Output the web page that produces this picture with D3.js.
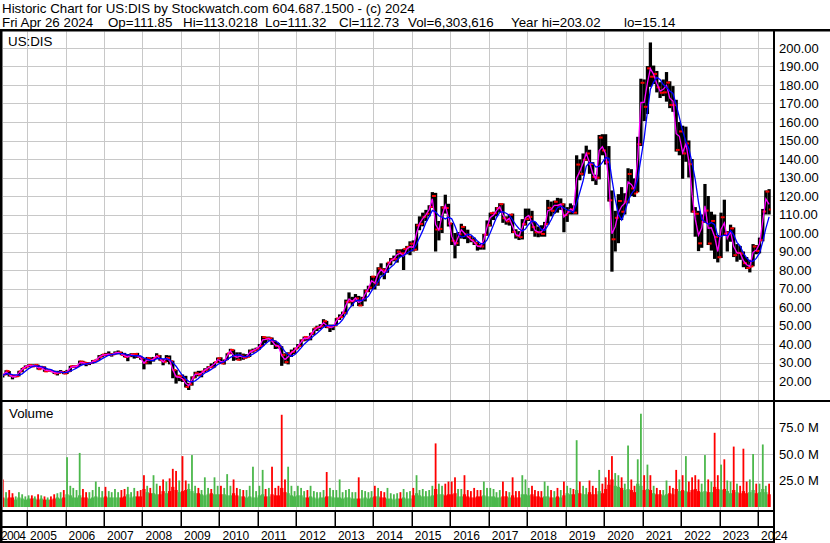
<!DOCTYPE html>
<html>
<head>
<meta charset="utf-8">
<script src="https://cdn.jsdelivr.net/npm/d3@7"></script>
<style>
  body { margin: 0; background: #fff; }
  svg { display: block; font-family: "Liberation Sans", Arial, sans-serif; }
</style>
</head>
<body>
<svg width="830" height="543"></svg>
<script>
// monthly bars, May 2004 .. Apr 2024
const firstMonth = [2004, 4];

const hi = [
  23.6, 25.8, 25.4, 23.2, 23.3, 25.5, 27.0, 28.4,
  29.0, 29.0, 29.0, 28.8, 28.2, 27.9, 26.3, 26.1, 25.5, 25.5, 25.9, 25.4,
  26.0, 28.2, 28.5, 28.4, 31.0, 30.9, 30.2, 30.0, 31.3, 31.6, 34.0, 34.5,
  35.2, 36.0, 35.0, 36.0, 36.5, 35.8, 35.2, 34.6, 35.0, 35.0, 35.2, 33.5,
  32.5, 33.0, 32.8, 33.0, 35.0, 34.0, 31.8, 34.0, 33.8, 31.0, 26.0, 23.4,
  23.5, 22.8, 19.0, 22.5, 25.0, 25.5, 25.5, 26.9, 28.0, 29.5, 30.3, 32.7,
  32.8, 31.6, 35.0, 37.4, 37.0, 35.5, 35.5, 34.8, 34.5, 37.0, 37.5, 38.0,
  40.0, 44.3, 44.0, 44.0, 43.5, 41.8, 40.5, 38.8, 35.0, 35.5, 37.0, 38.0,
  40.0, 42.5, 44.0, 44.0, 46.0, 48.5, 49.9, 50.7, 53.4, 52.5, 50.5, 50.5,
  54.0, 56.0, 57.5, 64.0, 67.9, 65.5, 67.0, 66.0, 65.5, 69.5, 71.5, 76.8,
  76.8, 81.5, 83.6, 81.0, 84.0, 86.5, 87.8, 91.2, 91.2, 91.5, 93.0, 95.5,
  96.0, 105.0, 109.0, 111.0, 112.5, 115.0, 122.1, 121.7, 106.5, 114.5, 120.7, 115.8,
  105.5, 100.0, 100.5, 105.0, 103.7, 101.8, 98.5, 97.5, 95.3, 94.0, 99.5, 106.8,
  111.0, 111.5, 114.0, 116.1, 116.0, 109.0, 110.0, 110.5, 102.0, 101.0, 107.5, 113.2,
  113.2, 112.0, 106.0, 103.5, 104.2, 106.0, 117.9, 117.0, 117.5, 119.0, 118.7, 116.0,
  114.0, 116.0, 115.0, 142.0, 139.8, 143.0, 147.2, 145.0, 138.3, 131.5, 153.0, 153.4,
  153.4, 147.0, 123.0, 112.0, 121.0, 124.8, 121.5, 135.0, 134.5, 129.5, 152.0, 183.4,
  183.0, 190.2, 203.0, 190.5, 187.6, 181.5, 183.0, 187.0, 182.0, 179.4, 172.0, 160.0,
  158.0, 157.5, 150.0, 140.0, 114.0, 112.0, 110.0, 126.5, 120.0, 111.5, 110.0, 99.0,
  111.0, 118.0, 101.0, 104.5, 103.0, 94.0, 93.0, 90.0, 87.0, 85.5, 94.0, 93.5,
  97.5, 113.0, 123.0, 123.7
];

const lo = [
  21.9, 23.2, 22.4, 20.9, 22.0, 22.5, 24.8, 26.7,
  27.6, 27.7, 27.6, 26.2, 26.4, 25.0, 25.0, 25.0, 23.8, 23.0, 24.2, 23.7,
  23.8, 25.0, 27.2, 27.1, 28.0, 28.7, 28.0, 28.6, 29.4, 30.5, 31.4, 32.9,
  33.5, 33.5, 33.2, 34.3, 34.5, 33.9, 32.8, 30.7, 32.9, 32.1, 32.5, 31.5,
  26.3, 29.0, 29.0, 30.5, 32.2, 31.0, 28.5, 30.2, 29.0, 21.5, 18.6, 20.0,
  19.5, 16.5, 15.14, 17.5, 21.5, 22.5, 22.0, 24.7, 25.5, 27.0, 27.3, 29.8,
  29.2, 28.9, 31.3, 34.5, 30.9, 31.4, 31.0, 31.5, 32.3, 33.0, 35.3, 36.3,
  37.0, 38.8, 40.5, 41.8, 39.5, 37.3, 37.5, 28.2, 29.5, 29.0, 33.0, 34.5,
  37.5, 38.5, 41.5, 41.8, 42.0, 44.8, 47.0, 48.0, 49.0, 48.6, 46.5, 47.5,
  50.0, 53.0, 54.5, 56.0, 62.0, 60.4, 62.8, 60.5, 60.5, 63.0, 68.0, 69.5,
  69.5, 71.5, 77.0, 75.0, 78.5, 82.5, 84.7, 84.0, 87.0, 80.0, 88.5, 88.0,
  90.0, 90.5, 101.5, 103.6, 106.5, 109.0, 113.5, 90.0, 96.0, 100.0, 110.5, 103.5,
  93.5, 86.3, 93.0, 97.0, 96.7, 94.5, 95.0, 93.5, 90.5, 91.0, 91.0, 98.5,
  103.5, 107.0, 109.0, 111.0, 105.5, 104.5, 104.0, 100.0, 97.0, 96.2, 96.5, 104.0,
  106.5, 101.0, 98.0, 97.7, 98.0, 98.0, 104.5, 109.0, 110.5, 111.0, 112.5, 100.4,
  106.0, 110.0, 110.0, 110.0, 128.5, 131.0, 139.0, 132.0, 128.0, 126.0, 129.0, 142.0,
  137.0, 117.0, 79.1, 90.0, 94.5, 107.0, 110.0, 116.0, 120.0, 119.5, 122.0, 147.0,
  160.5, 164.3, 179.0, 180.5, 176.0, 173.0, 174.0, 171.0, 167.5, 165.5, 144.0, 142.0,
  129.3, 138.5, 130.0, 111.0, 98.0, 90.2, 92.0, 105.5, 93.5, 90.5, 86.0, 84.1,
  86.5, 98.5, 90.0, 95.3, 87.0, 84.5, 85.5, 81.5, 80.5, 78.7, 82.0, 88.5,
  89.0, 95.5, 110.0, 110.0
];

const cl = [
  23.5, 25.5, 23.1, 22.5, 22.6, 25.2, 26.9, 27.8,
  28.6, 27.9, 28.7, 26.4, 27.4, 25.2, 25.6, 25.2, 24.1, 24.4, 24.9, 24.0,
  25.2, 27.9, 27.9, 28.0, 30.5, 30.0, 29.7, 29.7, 30.9, 31.5, 33.1, 34.3,
  34.2, 34.2, 34.4, 35.0, 35.4, 34.1, 33.0, 33.6, 34.4, 34.6, 33.1, 32.3,
  29.9, 32.4, 31.4, 32.4, 33.6, 31.2, 30.4, 32.4, 30.7, 25.9, 22.5, 22.7,
  20.7, 16.8, 18.2, 21.9, 24.2, 23.3, 25.1, 26.1, 27.5, 27.4, 30.2, 32.3,
  29.5, 31.3, 34.9, 36.8, 33.4, 31.5, 33.7, 32.5, 33.1, 36.1, 36.5, 37.5,
  38.9, 43.7, 43.1, 43.1, 41.6, 39.0, 38.6, 34.1, 30.2, 34.9, 35.8, 37.5,
  38.9, 42.0, 43.8, 43.1, 45.7, 48.5, 49.1, 49.5, 52.3, 49.1, 49.7, 49.8,
  53.8, 54.6, 56.8, 62.8, 63.1, 63.2, 64.6, 60.8, 64.5, 68.6, 70.5, 76.4,
  72.6, 80.8, 80.1, 79.3, 84.0, 85.7, 85.9, 89.9, 89.0, 91.4, 92.5, 94.2,
  91.0, 104.1, 104.9, 108.7, 110.4, 114.1, 120.0, 101.9, 102.2, 113.7, 113.5, 105.1,
  95.8, 94.5, 99.3, 103.3, 99.2, 97.8, 96.1, 94.5, 92.9, 92.7, 99.1, 104.2,
  110.7, 110.7, 113.4, 115.6, 108.0, 106.3, 109.9, 100.6, 98.6, 97.8, 104.8, 107.5,
  108.7, 103.2, 100.4, 100.3, 99.5, 104.8, 113.6, 112.0, 116.9, 114.8, 115.5, 109.7,
  111.5, 112.8, 111.0, 137.0, 132.0, 139.6, 143.0, 137.3, 130.3, 129.9, 151.6, 144.6,
  138.3, 117.7, 96.6, 108.2, 117.3, 111.5, 116.9, 131.9, 124.1, 121.3, 148.0, 181.2,
  168.2, 189.0, 184.5, 186.0, 178.7, 175.8, 176.0, 181.3, 169.2, 169.1, 144.9, 154.9,
  143.0, 148.4, 137.2, 111.6, 110.4, 94.4, 106.1, 112.1, 94.3, 106.5, 97.9, 86.9,
  108.5, 99.6, 100.1, 102.5, 88.0, 89.3, 88.9, 83.7, 81.1, 81.6, 92.7, 90.3,
  96.1, 111.6, 122.4, 112.7
];

// volume in millions: typical level and the tallest spike of each month
const volBase = [
  9, 8, 9, 9, 7, 9, 8, 7,
  8, 8, 8, 7, 8, 7, 7, 7, 8, 9, 8, 9,
  12, 11, 9, 9, 11, 9, 9, 8, 9, 10, 9, 9,
  10, 9, 9, 9, 9, 9, 10, 12, 9, 10, 10, 10,
  17, 14, 13, 13, 12, 12, 15, 13, 15, 19, 16, 14,
  15, 16, 17, 15, 13, 13, 12, 11, 12, 13, 12, 12,
  12, 12, 11, 11, 13, 11, 10, 10, 9, 10, 9, 9,
  11, 12, 10, 10, 12, 11, 11, 18, 14, 13, 11, 10,
  11, 11, 9, 9, 10, 9, 8, 9, 9, 10, 10, 9,
  9, 9, 8, 9, 9, 8, 8, 8, 8, 9, 8, 9,
  10, 10, 9, 9, 8, 8, 7, 8, 8, 9, 8, 8,
  11, 13, 11, 10, 10, 10, 11, 17, 12, 12, 11, 12,
  12, 13, 10, 10, 12, 10, 9, 9, 10, 10, 11, 10,
  10, 10, 9, 9, 10, 10, 9, 11, 9, 9, 12, 12,
  11, 12, 10, 10, 9, 10, 10, 9, 9, 10, 9, 11,
  13, 12, 12, 16, 13, 12, 12, 14, 12, 12, 15, 13,
  17, 21, 26, 20, 19, 18, 16, 17, 16, 14, 22, 20,
  16, 17, 16, 13, 12, 12, 11, 12, 13, 12, 17, 15,
  16, 15, 14, 16, 17, 15, 14, 15, 14, 14, 19, 17,
  16, 17, 15, 13, 16, 14, 13, 15, 13, 14, 16, 13,
  14, 17, 14, 12
];

const volPeak = [
  26, 14, 16, 13, 10, 14, 12, 10,
  11, 11, 10, 12, 11, 10, 9, 10, 12, 13, 14, 16,
  47, 20, 18, 16, 51, 17, 14, 14, 16, 24, 19, 15,
  19, 15, 14, 17, 14, 16, 17, 19, 14, 18, 15, 16,
  30, 20, 18, 30, 22, 20, 26, 24, 27, 36, 34, 25,
  48, 25, 22, 49, 20, 18, 16, 28, 18, 17, 28, 20,
  20, 18, 31, 20, 26, 18, 17, 16, 16, 20, 38, 15,
  20, 35, 17, 18, 38, 18, 20, 87, 26, 38, 20, 15,
  20, 18, 15, 16, 20, 15, 14, 14, 16, 33, 18, 16,
  16, 26, 14, 16, 17, 14, 14, 28, 16, 15, 14, 15,
  20, 18, 15, 14, 18, 13, 12, 13, 14, 17, 14, 15,
  18, 30, 16, 17, 15, 16, 20, 60, 22, 20, 22, 24,
  24, 28, 17, 17, 30, 16, 15, 18, 16, 16, 24, 18,
  18, 17, 14, 16, 24, 15, 14, 28, 15, 15, 30, 26,
  18, 20, 16, 15, 15, 24, 20, 16, 15, 18, 16, 24,
  20, 18, 17, 63, 24, 20, 18, 25, 20, 18, 35, 22,
  28, 35, 48, 32, 30, 28, 22, 58, 26, 20, 45, 88,
  30, 40, 30, 20, 18, 16, 16, 25, 20, 18, 35, 26,
  30, 48, 24, 28, 30, 26, 22, 49, 26, 24, 70, 30,
  40, 45, 25, 24, 57, 22, 20, 55, 24, 26, 50, 22,
  22, 59, 20, 22
];

const yearLabels = d3.range(2004, 2025);
const priceTicks = d3.range(20, 201, 10);
const volTicks = [25, 50, 75];

const headerLine1 = "Historic Chart for US:DIS by Stockwatch.com 604.687.1500 - (c) 2024";
const headerLine2 = ["Fri Apr 26 2024", "Op=111.85", "Hi=113.0218", "Lo=111.32",
  "Cl=112.73", "Vol=6,303,616", "Year hi=203.02", "lo=15.14"];
const headerLine2X = [2, 108, 183, 265, 339, 408, 511, 624];

var svg = d3.select("svg");

const left = 3, right = 773;
const gridColor = "#c8c8c8";
const upColor = "#4cb84c", downColor = "#ff0000";

var x = d3.scaleTime()
  .domain([new Date(2004, 4, 17), new Date(2024, 4, 22)])
  .range([left, right]);
var y = d3.scaleLinear().domain([10, 210]).range([399.5, 29.5]);
var yv = d3.scaleLinear().domain([0, 100]).range([507, 401]);

const dates = hi.map((d, i) => new Date(firstMonth[0], firstMonth[1] + i, 15));
const barW = x(new Date(2010, 1, 1)) - x(new Date(2010, 0, 1));

// moving averages on the monthly typical price (short ~ 20 day, long ~ 50 day)
const typical = hi.map((h, i) => (h + lo[i] + cl[i]) / 3);
const movingAvg = (n) => typical.map((d, i) => d3.mean(typical.slice(Math.max(0, i - n + 1), i + 1)));
const maShort = movingAvg(1);
const maLong = movingAvg(4);
const up = cl.map((c, i) => i > 0 && c >= cl[i - 1]);

// clip regions
const defs = svg.append("defs");
defs.append("clipPath").attr("id", "clipPrice")
  .append("rect").attr("x", left).attr("y", 31.5).attr("width", right - left).attr("height", 368.5);
defs.append("clipPath").attr("id", "clipVol")
  .append("rect").attr("x", left).attr("y", 402).attr("width", right - left).attr("height", 108);

const yearTicks = d3.range(2005, 2025).map((yr) => new Date(yr, 0, 1));

// ---- price panel
const gp = svg.append("g").attr("clip-path", "url(#clipPrice)");
gp.selectAll(".hgrid").data(priceTicks).enter().append("line")
  .attr("x1", left).attr("x2", right)
  .attr("y1", (d) => Math.round(y(d)) + 0.5).attr("y2", (d) => Math.round(y(d)) + 0.5)
  .attr("stroke", gridColor);
gp.selectAll(".vgrid").data(yearTicks).enter().append("line")
  .attr("x1", (d) => Math.round(x(d)) + 0.5).attr("x2", (d) => Math.round(x(d)) + 0.5)
  .attr("y1", 31).attr("y2", 400)
  .attr("stroke", gridColor);

gp.selectAll(".bar").data(dates).enter().append("rect")
  .attr("x", (d) => x(d) - barW / 2)
  .attr("width", barW)
  .attr("y", (d, i) => y(hi[i]))
  .attr("height", (d, i) => y(lo[i]) - y(hi[i]))
  .attr("fill", "#000");
// red open (left) and close (right) ticks
gp.selectAll(".open").data(dates.slice(1)).enter().append("rect")
  .attr("x", (d) => x(d) - barW / 2)
  .attr("width", barW / 2 + 0.3)
  .attr("y", (d, i) => y(Math.min(hi[i + 1], Math.max(lo[i + 1], cl[i]))) - 1)
  .attr("height", 2)
  .attr("fill", downColor);
gp.selectAll(".close").data(dates).enter().append("rect")
  .attr("x", (d) => x(d) - 0.3)
  .attr("width", barW / 2 + 0.3)
  .attr("y", (d, i) => y(cl[i]) - 1)
  .attr("height", 2)
  .attr("fill", downColor);

const line = (vals) => d3.line().x((d) => x(d)).y((d, i) => y(vals[i]))(dates);
gp.append("path").attr("d", line(maShort))
  .attr("fill", "none").attr("stroke", "#ff00ff").attr("stroke-width", 1.3);
gp.append("path").attr("d", line(maLong))
  .attr("fill", "none").attr("stroke", "#0000ff").attr("stroke-width", 1.3);

// ---- volume panel
const gv = svg.append("g").attr("clip-path", "url(#clipVol)");
gv.selectAll(".hgrid").data(volTicks).enter().append("line")
  .attr("x1", left).attr("x2", right)
  .attr("y1", (d) => Math.round(yv(d)) + 0.5).attr("y2", (d) => Math.round(yv(d)) + 0.5)
  .attr("stroke", gridColor);
gv.selectAll(".vgrid").data(yearTicks).enter().append("line")
  .attr("x1", (d) => Math.round(x(d)) + 0.5).attr("x2", (d) => Math.round(x(d)) + 0.5)
  .attr("y1", 402).attr("y2", 510)
  .attr("stroke", gridColor);

gv.selectAll(".vbase").data(dates).enter().append("rect")
  .attr("x", (d) => x(d) - barW / 2)
  .attr("width", barW)
  .attr("y", (d, i) => yv(volBase[i]))
  .attr("height", (d, i) => yv(0) - yv(volBase[i]))
  .attr("fill", (d, i) => (up[i] ? upColor : downColor));
gv.selectAll(".vpeak").data(dates).enter().append("rect")
  .attr("x", (d) => x(d) - 0.9)
  .attr("width", 1.8)
  .attr("y", (d, i) => yv(volPeak[i]))
  .attr("height", (d, i) => yv(0) - yv(volPeak[i]))
  .attr("fill", (d, i) => (up[i] ? upColor : downColor));

// ---- frame
const frame = svg.append("g").attr("fill", "#000");
frame.append("rect").attr("x", 0).attr("y", 29).attr("width", 830).attr("height", 2.5);
frame.append("rect").attr("x", 0).attr("y", 29).attr("width", 2.5).attr("height", 514);
frame.append("rect").attr("x", 773).attr("y", 29).attr("width", 2).attr("height", 514);
frame.append("rect").attr("x", 0).attr("y", 400).attr("width", 830).attr("height", 2);
frame.append("rect").attr("x", 0).attr("y", 510).attr("width", 775).attr("height", 2);
frame.append("rect").attr("x", 0).attr("y", 526).attr("width", 775).attr("height", 2);
frame.append("rect").attr("x", 0).attr("y", 541).attr("width", 775).attr("height", 2);
frame.selectAll(".tick").data(yearTicks).enter().append("rect")
  .attr("x", (d) => Math.round(x(d)) - 0.5).attr("width", 1.5)
  .attr("y", 511).attr("height", 16);

// ---- texts
const txt = svg.append("g").attr("font-size", "13.33px").attr("fill", "#000")
  .style("white-space", "pre");
txt.append("text").attr("x", 2).attr("y", 13).text(headerLine1);
txt.selectAll(".h2").data(headerLine2).enter().append("text")
  .attr("x", (d, i) => headerLine2X[i]).attr("y", 26.5).text((d) => d);
txt.append("text").attr("x", 8).attr("y", 46).text("US:DIS");
txt.append("text").attr("x", 9).attr("y", 418).text("Volume");

const axisTxt = svg.append("g").attr("font-size", "13px").attr("fill", "#000");
axisTxt.selectAll(".pl").data(priceTicks).enter().append("text")
  .attr("x", 779).attr("y", (d) => y(d)).attr("dy", "0.36em")
  .text((d) => d3.format(".2f")(d));
axisTxt.selectAll(".vl").data(volTicks).enter().append("text")
  .attr("x", 779).attr("y", (d) => yv(d)).attr("dy", "0.36em")
  .text((d) => d3.format(".1f")(d) + " M");
axisTxt.selectAll(".yl").data(yearLabels).enter().append("text")
  .attr("x", (d) => (d === 2004 ? 1 : x(new Date(d, 0, 1)) + 3))
  .attr("y", 540)
  .attr("font-size", "12px")
  .attr("textLength", (d) => (d === 2004 ? 25 : null))
  .text((d) => d);
</script>
</body>
</html>
